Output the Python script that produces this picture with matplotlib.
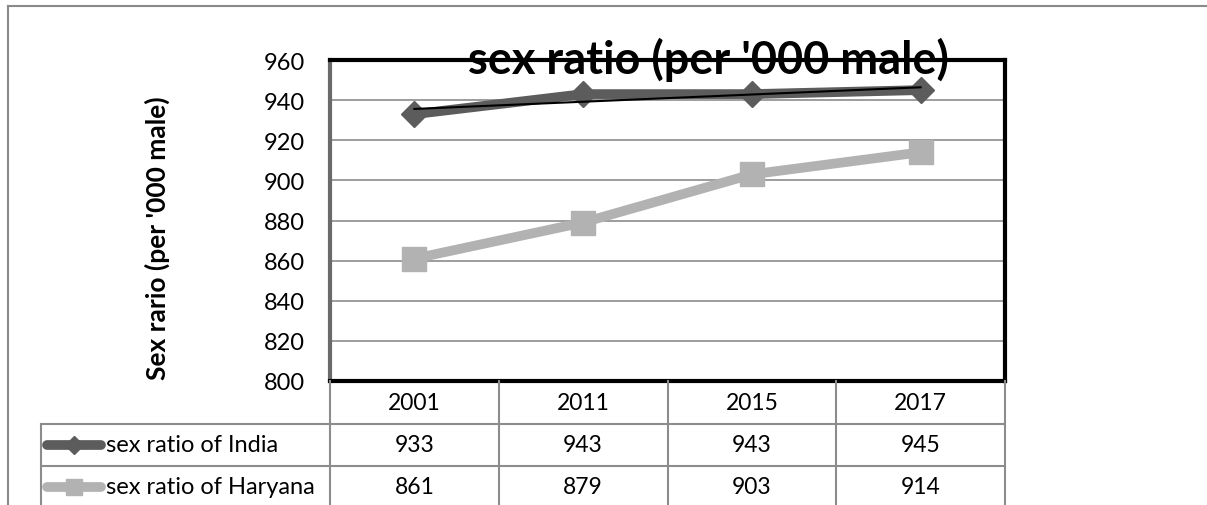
import numpy as np
import matplotlib.pyplot as plt
from matplotlib.lines import Line2D

plt.rcParams['font.family'] = ['Lato', 'DejaVu Sans']

years = ['2001', '2011', '2015', '2017']
india = [933, 943, 943, 945]
haryana = [861, 879, 903, 914]
names = ['sex ratio of India', 'sex ratio of Haryana']
yticks = [800, 820, 840, 860, 880, 900, 920, 940, 960]

W, H = 1207, 506
c_india = '#5c5c5c'
c_har = '#b2b2b2'
c_grid = '#8c8c8c'

fig = plt.figure(figsize=(W / 100, H / 100), dpi=100)

def fx(px):
    return px / W

def fy(py):
    return 1 - py / H

# plot area in pixel coords
L, R, T, B = 330, 1005, 61, 382
ax = fig.add_axes([fx(L), fy(B), fx(R - L), fy(T) - fy(B)])

x = np.arange(len(years))
ax.plot(x, haryana, color=c_har, lw=7, marker='s', ms=17, zorder=3)
ax.plot(x, india, color=c_india, lw=7, marker='D', ms=13, zorder=4)
# linear trend for India
k, b = np.polyfit(x, india, 1)
ax.plot(x, k * x + b, color='black', lw=1.5, zorder=5)

ax.set_xlim(-0.5, len(years) - 0.5)
ax.set_ylim(800, 960)
ax.set_yticks(yticks)
ax.set_xticks([])
ax.tick_params(axis='y', length=0, labelsize=17, pad=18)
ax.grid(axis='y', color=c_grid, lw=1.2)
ax.set_axisbelow(True)
for s in ['top', 'right', 'bottom']:
    ax.spines[s].set_linewidth(3)
    ax.spines[s].set_color('black')
ax.spines['left'].set_linewidth(3)
ax.spines['left'].set_color('#6a6a6a')

fig.text(fx(708), fy(60), "sex ratio (per '000 male)", ha='center', va='center',
         fontsize=32.5, fontweight='bold', zorder=10)
fig.text(fx(157), fy(238), "Sex rario (per '000 male)", ha='center', va='center',
         rotation=90, fontsize=19, fontweight='bold')

# outer frame
fig.add_artist(Line2D([fx(8), 1], [fy(7), fy(7)], color='#8a8a8a', lw=1.5))
fig.add_artist(Line2D([fx(8), fx(8)], [fy(7), 0], color='#8a8a8a', lw=1.5))

# data table
cols = [L + i * (R - L) / len(years) for i in range(len(years) + 1)]
rows = [B, 425, 467, 509]
tl = dict(color=c_grid, lw=1.5)
for cx in cols:
    fig.add_artist(Line2D([fx(cx), fx(cx)], [fy(B), 0], **tl))
fig.add_artist(Line2D([fx(41), fx(41)], [fy(rows[1]), 0], **tl))
for ry in rows[1:3]:
    fig.add_artist(Line2D([fx(41), fx(R)], [fy(ry), fy(ry)], **tl))

for i, yr in enumerate(years):
    cx = (cols[i] + cols[i + 1]) / 2
    fig.text(fx(cx), fy((rows[0] + rows[1]) / 2), yr, ha='center', va='center', fontsize=16.5)
    fig.text(fx(cx), fy((rows[1] + rows[2]) / 2), str(india[i]), ha='center', va='center', fontsize=16.5)
    fig.text(fx(cx), fy((rows[2] + rows[3]) / 2), str(haryana[i]), ha='center', va='center', fontsize=16.5)

for j, (name, col, mk, ms) in enumerate([(names[0], c_india, 'D', 9), (names[1], c_har, 's', 12)]):
    ry = (rows[j + 1] + rows[j + 2]) / 2
    fig.add_artist(Line2D([fx(47), fx(101)], [fy(ry), fy(ry)], color=col, lw=7,
                          solid_capstyle='round'))
    fig.add_artist(Line2D([fx(74)], [fy(ry)], color=col, marker=mk, ms=ms, lw=0))
    fig.text(fx(106), fy(ry), name, ha='left', va='center', fontsize=17)

fig.savefig('out.png', dpi=100)
